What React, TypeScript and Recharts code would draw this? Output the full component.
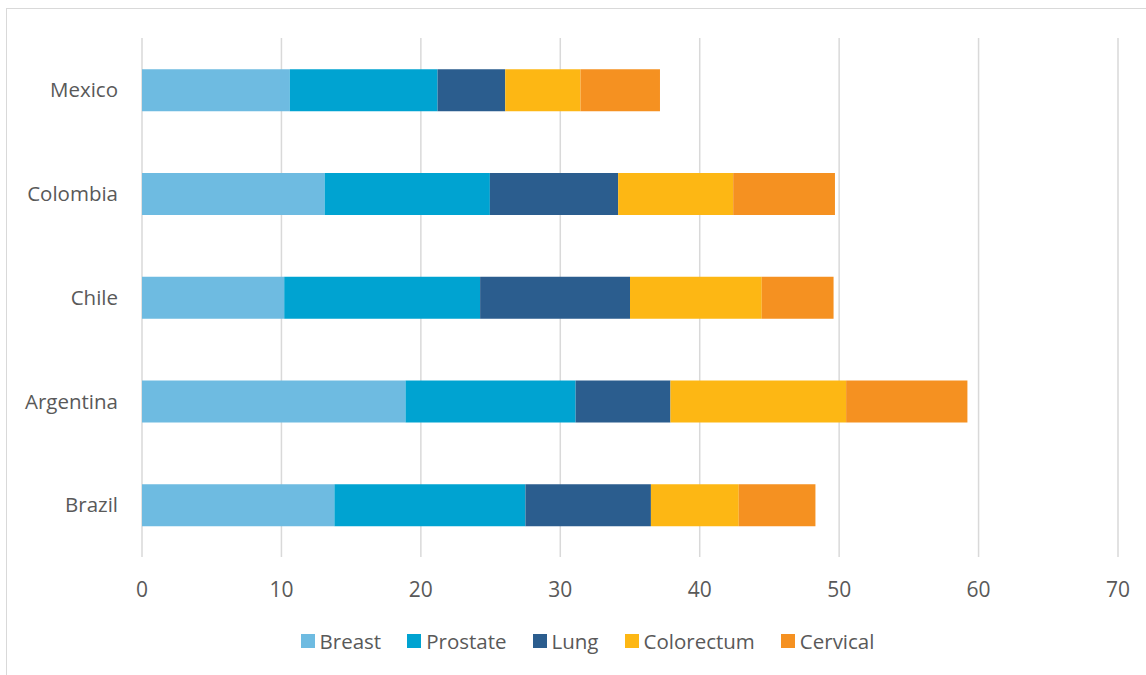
import React from 'react';
import { BarChart, Bar, XAxis, YAxis, CartesianGrid } from 'recharts';

const countries = ['Mexico', 'Colombia', 'Chile', 'Argentina', 'Brazil'];
const breast = [10.6, 13.1, 10.2, 18.9, 13.8];
const prostate = [10.6, 11.85, 14.05, 12.2, 13.7];
const lung = [4.85, 9.2, 10.75, 6.8, 9.0];
const colorectum = [5.4, 8.25, 9.45, 12.6, 6.3];
const cervical = [5.7, 7.3, 5.15, 8.7, 5.5];
const xTicks = [0, 10, 20, 30, 40, 50, 60, 70];

const series = [
  { key: 'breast', name: 'Breast', color: '#6EBBE1', values: breast },
  { key: 'prostate', name: 'Prostate', color: '#00A3D1', values: prostate },
  { key: 'lung', name: 'Lung', color: '#2B5D8E', values: lung },
  { key: 'colorectum', name: 'Colorectum', color: '#FDB714', values: colorectum },
  { key: 'cervical', name: 'Cervical', color: '#F59121', values: cervical },
];

const data = countries.map((country, i) => {
  const row: Record<string, string | number> = { country };
  series.forEach((s) => {
    row[s.key] = s.values[i];
  });
  return row;
});

const FONT = '"Open Sans", sans-serif';
const TEXT = '#595959';

export default function App() {
  return (
    <div style={{ fontFamily: FONT }}>
      <div
        style={{
          position: 'absolute',
          left: 6,
          top: 8,
          width: 1160,
          height: 690,
          border: '1px solid #d9d9d9',
          boxSizing: 'border-box',
        }}
      />
      <div style={{ position: 'absolute', left: 0, top: 0 }}>
        <BarChart
          width={1146}
          height={675}
          data={data}
          layout="vertical"
          margin={{ top: 38, right: 28, left: 0, bottom: 0 }}
          barCategoryGap="30%"
        >
          <CartesianGrid horizontal={false} stroke="#d9d9d9" strokeWidth={1.5} />
          <XAxis
            type="number"
            domain={[0, 70]}
            ticks={xTicks}
            height={118}
            axisLine={false}
            tickLine={false}
            tickSize={0}
            tickMargin={25}
            tick={{ fill: TEXT, fontSize: 21, fontFamily: FONT }}
          />
          <YAxis
            type="category"
            dataKey="country"
            width={142}
            axisLine={false}
            tickLine={false}
            tickSize={0}
            tickMargin={24}
            tick={{ fill: TEXT, fontSize: 20.5, fontFamily: FONT }}
          />
          {series.map((s) => (
            <Bar
              key={s.key}
              dataKey={s.key}
              name={s.name}
              stackId="a"
              fill={s.color}
              isAnimationActive={false}
            />
          ))}
        </BarChart>
      </div>
      <div
        style={{
          position: 'absolute',
          left: 0,
          top: 626,
          width: 1175,
          height: 30,
          display: 'flex',
          justifyContent: 'center',
          alignItems: 'center',
          color: TEXT,
          fontSize: 20.5,
        }}
      >
        {series.map((s, i) => (
          <div
            key={s.key}
            style={{
              display: 'flex',
              alignItems: 'center',
              marginRight: i < series.length - 1 ? 26 : 0,
            }}
          >
            <span
              style={{
                display: 'inline-block',
                width: 14,
                height: 14,
                background: s.color,
                marginRight: 5,
              }}
            />
            <span>{s.name}</span>
          </div>
        ))}
      </div>
    </div>
  );
}
